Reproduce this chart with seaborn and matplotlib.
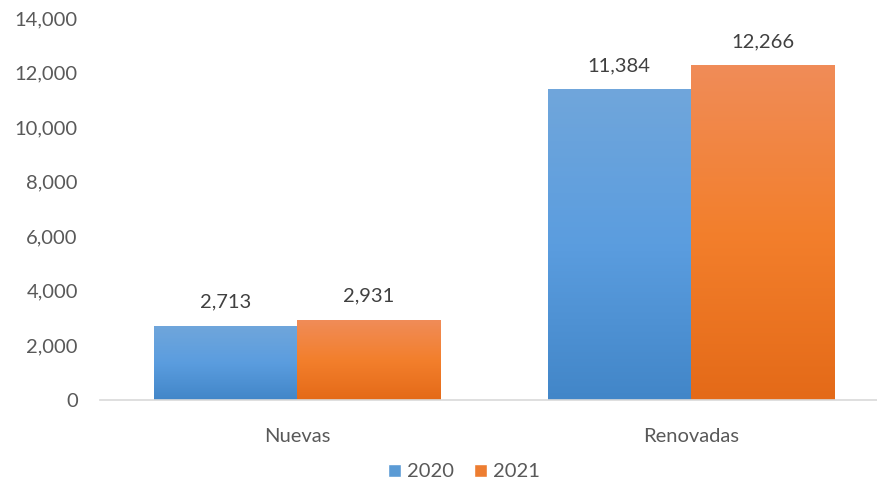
import matplotlib
matplotlib.use("Agg")
import matplotlib.pyplot as plt
import seaborn as sns
import numpy as np
import pandas as pd
from matplotlib.colors import LinearSegmentedColormap

categories = ["Nuevas", "Renovadas"]
years = ["2020", "2021"]
values_2020 = [2713, 11384]
values_2021 = [2931, 12266]
yticks = [0, 2000, 4000, 6000, 8000, 10000, 12000, 14000]

df = pd.DataFrame({
    "cat": categories * 2,
    "year": [years[0]] * 2 + [years[1]] * 2,
    "val": values_2020 + values_2021,
})

sns.set_theme(style="white")
plt.rcParams["font.family"] = ["Lato", "DejaVu Sans"]
txt = "#595959"
fs = 14.5

fig = plt.figure(figsize=(8.78, 4.84), dpi=100)
ax = fig.add_axes([100/878, 84/484, 778/878, (400-18)/484])

pal = {"2020": "#5b9bd5", "2021": "#ed7d31"}
sns.barplot(data=df, x="cat", y="val", hue="year", palette=pal, width=0.727,
            gap=0, ax=ax, legend=True, saturation=1)

ax.set_ylim(0, 14000)
ax.set_xlim(-0.5, 1.475)
ax.set_yticks(yticks)
ax.set_yticklabels([f"{v:,}" for v in yticks], color=txt, fontsize=fs)
ax.tick_params(axis="x", colors=txt, labelsize=fs, length=0, pad=20)
ax.tick_params(axis="y", length=0, pad=16)
ax.set_xlabel("")
ax.set_ylabel("")
for s in ["top", "right", "left"]:
    ax.spines[s].set_visible(False)
ax.spines["bottom"].set_color("#d9d9d9")
ax.spines["bottom"].set_linewidth(1.2)

grads = {
    "2020": LinearSegmentedColormap.from_list("b", ["#4286c8", "#5b9ddf", "#70a6db"]),
    "2021": LinearSegmentedColormap.from_list("o", ["#e46a18", "#f37f2c", "#f08c58"]),
}
grad = np.linspace(0, 1, 256).reshape(-1, 1)
for cont, yr in zip(ax.containers, years):
    for p in cont.patches:
        x0, y0 = p.get_x(), p.get_y()
        w, h = p.get_width(), p.get_height()
        im = ax.imshow(grad, cmap=grads[yr], origin="lower", aspect="auto",
                       extent=[x0, x0 + w, y0, y0 + h], zorder=p.get_zorder() + 0.1)
        im.set_clip_path(p)
        p.set_edgecolor("none")
    ax.bar_label(cont, labels=[f"{int(v):,}" for v in cont.datavalues],
                 padding=11, color="#404040", fontsize=fs)

ax.set_xlim(-0.5, 1.475)
ax.set_ylim(0, 14000)

leg = ax.legend(loc="lower center", ncol=2, frameon=False,
                fontsize=fs, handlelength=0.65, handleheight=0.65,
                handletextpad=0.3, columnspacing=1.0)
leg.set_bbox_to_anchor((464/878, -0.03), transform=fig.transFigure)
for t in leg.get_texts():
    t.set_color(txt)

fig.savefig("out.png", dpi=100)
